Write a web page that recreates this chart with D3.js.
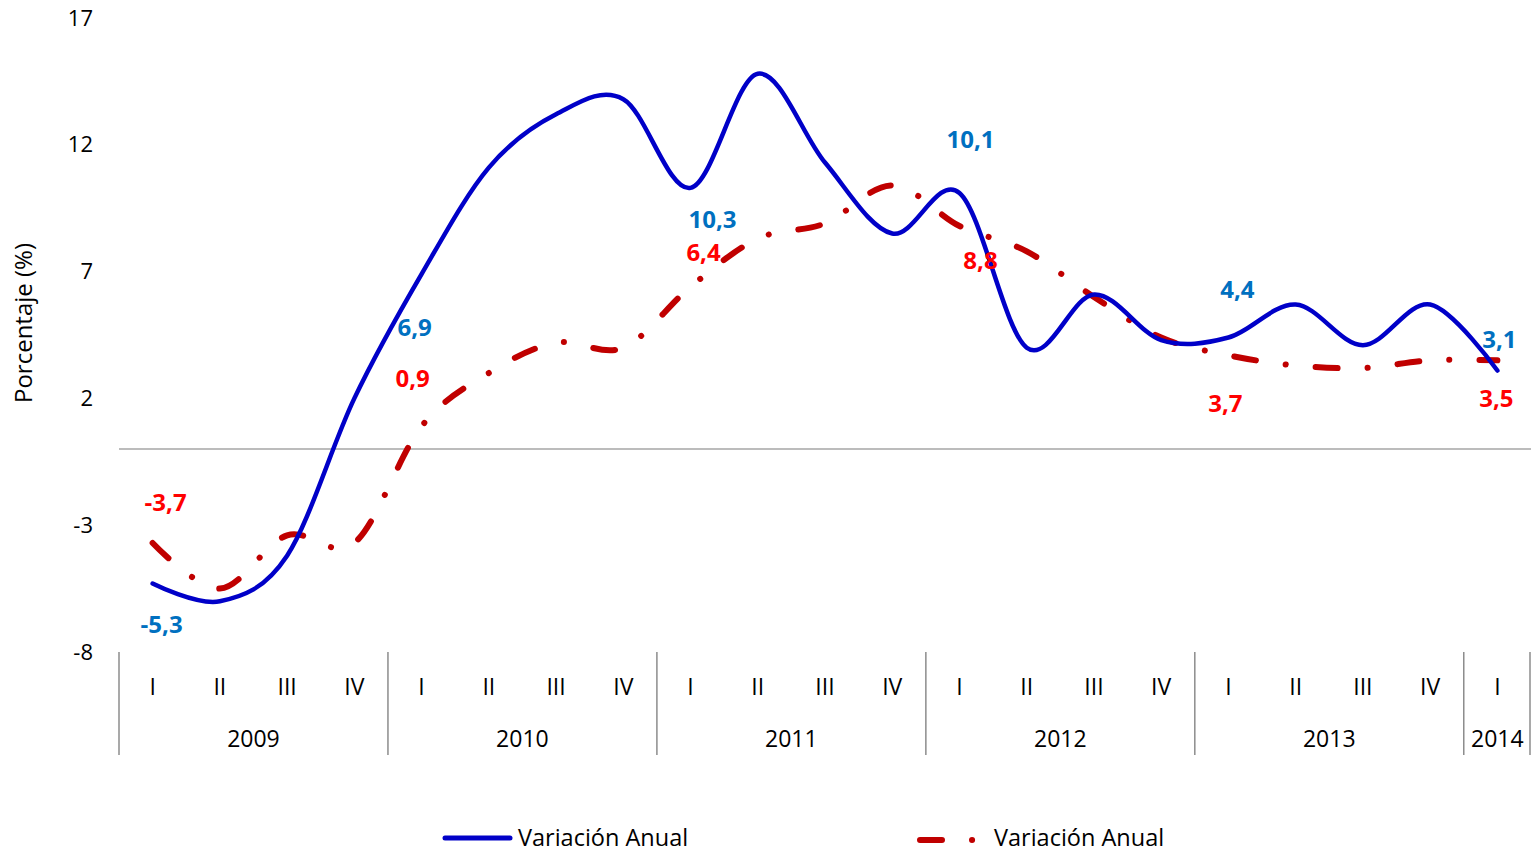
<!DOCTYPE html>
<html>
<head>
<meta charset="utf-8">
<script src="https://cdn.jsdelivr.net/npm/d3@7"></script>
<style>
  html, body { margin: 0; padding: 0; background: #fff; }
  svg { display: block; font-family: 'Open Sans', sans-serif; }
</style>
</head>
<body>
<div id="chart"></div>
<script>
// === Data ===
const quarters = ['I', 'II', 'III', 'IV', 'I', 'II', 'III', 'IV', 'I', 'II', 'III', 'IV',
  'I', 'II', 'III', 'IV', 'I', 'II', 'III', 'IV', 'I'];
const years = ['2009', '2010', '2011', '2012', '2013', '2014'];
const quartersPerYear = [4, 4, 4, 4, 4, 1];
const yTicks = [-8, -3, 2, 7, 12, 17];

const serieAzul = [-5.3, -6.0, -4.2, 2.0, 6.9, 11.1, 13.2, 13.8, 10.3, 14.8, 11.3, 8.5,
  10.1, 4.0, 6.1, 4.3, 4.4, 5.7, 4.1, 5.7, 3.1];
const serieRoja = [-3.7, -5.5, -3.4, -3.7, 0.9, 3.0, 4.2, 4.0, 6.4, 8.3, 8.9, 10.4,
  8.8, 7.8, 6.0, 4.4, 3.7, 3.3, 3.2, 3.5, 3.5];

const labeledIdx = [0, 4, 8, 12, 16, 20];

// label offsets from the point (px), as placed in the original
const azulLabelOffset = [[9, 41], [-7, 53], [22, 32], [11, -53], [9, -48], [2, -31]];
const rojaLabelOffset = [[13, -40], [-9, -48], [13, -34], [21, 35], [-3, 48], [-1, 38]];

// === Layout ===
const W = 1531, H = 852;
const M = { left: 119, right: 0, top: 18, bottom: 200 };
const plotBottom = 652;
const FONT = "'Open Sans', sans-serif";

const svg = d3.select('#chart').append('svg')
  .attr('width', W).attr('height', H);

const x = d3.scaleBand()
  .domain(d3.range(quarters.length))
  .range([M.left, W - M.right])
  .paddingInner(0).paddingOuter(0);

const y = d3.scaleLinear()
  .domain([-8, 17])
  .range([plotBottom, M.top]);

const cx = i => x(i) + x.bandwidth() / 2;

// y axis labels (no axis line)
const yAxis = svg.append('g')
  .attr('transform', `translate(${M.left - 26},0)`)
  .call(d3.axisLeft(y).tickValues(yTicks).tickSize(0).tickPadding(0).tickFormat(d => String(d)));
yAxis.select('.domain').remove();
yAxis.selectAll('text')
  .attr('font-size', '22px')
  .attr('fill', '#000')
  .attr('font-family', FONT);

svg.append('text')
  .attr('transform', `translate(32,${(M.top + plotBottom) / 2 - 12}) rotate(-90)`)
  .attr('text-anchor', 'middle')
  .attr('font-size', '24px')
  .attr('fill', '#000')
  .text('Porcentaje (%)');

// zero line
svg.append('line')
  .attr('x1', M.left).attr('x2', W)
  .attr('y1', y(0)).attr('y2', y(0))
  .attr('stroke', '#a6a6a6').attr('stroke-width', 1.5);

// category axis: quarters and years
const catG = svg.append('g');
catG.selectAll('text.q')
  .data(quarters)
  .join('text')
  .attr('class', 'q')
  .attr('x', (d, i) => cx(i))
  .attr('y', 687)
  .attr('dy', '0.35em')
  .attr('text-anchor', 'middle')
  .attr('font-size', '23px')
  .attr('fill', '#000')
  .text(d => d);

let start = 0;
const seps = [start];
years.forEach((yr, k) => {
  const n = quartersPerYear[k];
  const x0 = x(start), x1 = x(start + n - 1) + x.bandwidth();
  catG.append('text')
    .attr('x', (x0 + x1) / 2)
    .attr('y', 739)
    .attr('dy', '0.35em')
    .attr('text-anchor', 'middle')
    .attr('font-size', '23px')
    .attr('fill', '#000')
    .text(yr);
  start += n;
  seps.push(start);
});
const sepX = i => (i < quarters.length ? x(i) : x(i - 1) + x.bandwidth() - 1);
catG.selectAll('line.sep')
  .data(seps)
  .join('line')
  .attr('class', 'sep')
  .attr('x1', sepX).attr('x2', sepX)
  .attr('y1', plotBottom).attr('y2', 755)
  .attr('stroke', '#8c8c8c').attr('stroke-width', 1.5);

// === Lines ===
const line = d3.line()
  .x((d, i) => cx(i))
  .y(d => y(d))
  .curve(d3.curveCardinal.tension(0));

svg.append('path')
  .datum(serieRoja)
  .attr('d', line)
  .attr('fill', 'none')
  .attr('stroke', '#c00000')
  .attr('stroke-width', 6)
  .attr('stroke-linecap', 'round')
  .attr('stroke-dasharray', '22 30 0.1 30');

svg.append('path')
  .datum(serieAzul)
  .attr('d', line)
  .attr('fill', 'none')
  .attr('stroke', '#0000c8')
  .attr('stroke-width', 4.5)
  .attr('stroke-linecap', 'round');

// === Data labels ===
function fmt(v) { return v.toFixed(1).replace('.', ','); }

function drawLabels(series, offsets, color) {
  svg.append('g').selectAll('text')
    .data(labeledIdx)
    .join('text')
    .attr('x', (d, k) => cx(d) + offsets[k][0])
    .attr('y', (d, k) => y(series[d]) + offsets[k][1])
    .attr('dy', '0.35em')
    .attr('text-anchor', 'middle')
    .attr('font-size', '24px')
    .attr('font-weight', 'bold')
    .attr('fill', color)
    .text(d => fmt(series[d]));
}
drawLabels(serieAzul, azulLabelOffset, '#0070c0');
drawLabels(serieRoja, rojaLabelOffset, '#ff0000');

// === Legend ===
const lg = svg.append('g');
lg.append('line')
  .attr('x1', 445).attr('x2', 510).attr('y1', 838).attr('y2', 838)
  .attr('stroke', '#0000c8').attr('stroke-width', 5).attr('stroke-linecap', 'round');
lg.append('text')
  .attr('x', 518).attr('y', 838).attr('dy', '0.35em')
  .attr('font-size', '23.5px').attr('fill', '#000')
  .text('Variación Anual');
lg.append('line')
  .attr('x1', 920).attr('x2', 976).attr('y1', 840).attr('y2', 840)
  .attr('stroke', '#c00000').attr('stroke-width', 6).attr('stroke-linecap', 'round')
  .attr('stroke-dasharray', '22 30 0.1 30');
lg.append('text')
  .attr('x', 994).attr('y', 838).attr('dy', '0.35em')
  .attr('font-size', '23.5px').attr('fill', '#000')
  .text('Variación Anual');
</script>
</body>
</html>
